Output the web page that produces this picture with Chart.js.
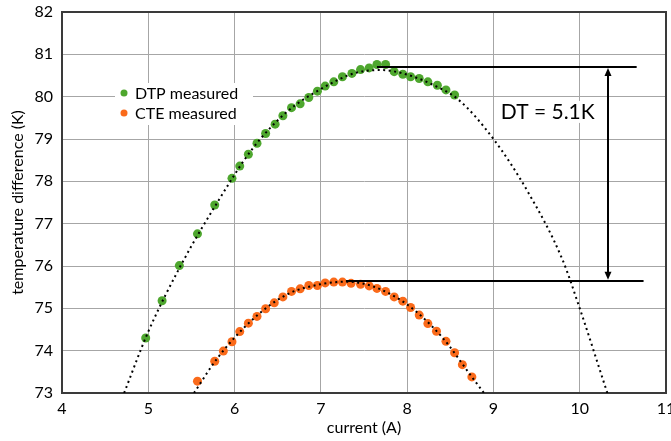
<!DOCTYPE html>
<html>
<head>
<meta charset="utf-8">
<script src="https://cdn.jsdelivr.net/npm/chart.js@4.4.1/dist/chart.umd.min.js"></script>
<style>
    html, body { margin: 0; padding: 0; background: #fff; }
    #wrap { width: 671px; height: 441px; }
</style>
</head>
<body>
<div id="wrap"><canvas id="dt-chart" width="671" height="441"></canvas></div>
<script>
// measured points
const dtpCurrent = [4.97, 5.16, 5.36, 5.57, 5.77, 5.97, 6.06, 6.16, 6.26, 6.36, 6.47, 6.56, 6.66, 6.76, 6.86, 6.96,
    7.05, 7.15, 7.25, 7.36, 7.46, 7.56, 7.65, 7.75, 7.85, 7.95, 8.04, 8.14, 8.24, 8.35, 8.45, 8.55];
const dtpTemp = [74.30, 75.18, 76.01, 76.76, 77.44, 78.07, 78.36, 78.64, 78.90, 79.13, 79.35, 79.55, 79.74, 79.83, 79.98, 80.13,
    80.25, 80.35, 80.47, 80.55, 80.64, 80.68, 80.76, 80.76, 80.59, 80.53, 80.47, 80.43, 80.35, 80.27, 80.16, 80.04];
const cteCurrent = [5.57, 5.77, 5.87, 5.97, 6.06, 6.16, 6.26, 6.36, 6.46, 6.56, 6.66, 6.76, 6.86, 6.96, 7.05, 7.15,
    7.25, 7.35, 7.46, 7.56, 7.65, 7.75, 7.85, 7.95, 8.04, 8.14, 8.24, 8.34, 8.45, 8.55, 8.64, 8.75];
const cteTemp = [73.28, 73.75, 73.99, 74.21, 74.45, 74.65, 74.81, 74.99, 75.13, 75.27, 75.40, 75.46, 75.54, 75.54, 75.60, 75.62,
    75.62, 75.59, 75.57, 75.53, 75.47, 75.40, 75.27, 75.17, 75.02, 74.84, 74.64, 74.46, 74.22, 73.95, 73.67, 73.38];

// dotted trend lines
const dtpTrendX = [4.72, 5.0, 5.4, 5.8, 6.2, 6.6, 7.0, 7.4, 7.7, 8.0, 8.3, 8.6, 9.0, 9.4, 9.8, 10.0, 10.32];
const dtpTrendY = [73.0, 74.45, 76.1, 77.5, 78.75, 79.63, 80.18, 80.56, 80.63, 80.52, 80.28, 79.92, 79.0, 77.75, 76.15, 75.0, 73.0];
const cteTrendX = [5.53, 5.8, 6.2, 6.6, 7.0, 7.3, 7.6, 8.0, 8.4, 8.75, 8.89];
const cteTrendY = [73.0, 73.82, 74.72, 75.32, 75.57, 75.63, 75.52, 75.09, 74.33, 73.38, 73.0];

// DT annotation
const dtLevels = [80.7, 75.65];
const dtLineStart = [7.65, 7.29];
const dtLineEnd = [10.66, 10.74];
const dtArrowX = 10.33;
const dtLabel = "DT = 5.1K";
const dtLabelPos = [9.63, 79.64];

const legendNames = ["DTP measured", "CTE measured"];
const xTicks = [4, 5, 6, 7, 8, 9, 10, 11];
const yTicks = [73, 74, 75, 76, 77, 78, 79, 80, 81, 82];

const GREEN = "#4ea72e";
const ORANGE = "#fa6a1a";
const FONT = "Lato";

function toPoints(xs, ys) {
    return xs.map(function (x, i) { return { x: x, y: ys[i] }; });
}

const dtAnnotation = {
    id: "dtAnnotation",
    beforeDatasetsDraw(chart) {
        // dark frame round the plot, like the original
        const a = chart.chartArea;
        const ctx = chart.ctx;
        ctx.save();
        ctx.strokeStyle = "#3a3a3a";
        ctx.lineWidth = 2;
        ctx.strokeRect(a.left, a.top, a.right - a.left, a.bottom - a.top);
        ctx.restore();
    },
    afterDatasetsDraw(chart) {
        const ctx = chart.ctx;
        const xs = chart.scales.x;
        const ys = chart.scales.y;
        ctx.save();
        ctx.strokeStyle = "#000";
        ctx.fillStyle = "#000";
        ctx.lineWidth = 2;
        dtLevels.forEach(function (lv, i) {
            const py = Math.round(ys.getPixelForValue(lv));
            ctx.beginPath();
            ctx.moveTo(xs.getPixelForValue(dtLineStart[i]), py);
            ctx.lineTo(xs.getPixelForValue(dtLineEnd[i]), py);
            ctx.stroke();
        });
        // double arrow
        const ax = Math.round(xs.getPixelForValue(dtArrowX));
        const top = ys.getPixelForValue(dtLevels[0]) + 1;
        const bot = ys.getPixelForValue(dtLevels[1]) - 1;
        ctx.beginPath();
        ctx.moveTo(ax, top + 6);
        ctx.lineTo(ax, bot - 6);
        ctx.stroke();
        ctx.beginPath();
        ctx.moveTo(ax, top);
        ctx.lineTo(ax - 3.5, top + 8);
        ctx.lineTo(ax + 3.5, top + 8);
        ctx.closePath();
        ctx.fill();
        ctx.beginPath();
        ctx.moveTo(ax, bot);
        ctx.lineTo(ax - 3.5, bot - 8);
        ctx.lineTo(ax + 3.5, bot - 8);
        ctx.closePath();
        ctx.fill();

        // label with white backing
        ctx.font = "21px " + FONT;
        ctx.textAlign = "center";
        ctx.textBaseline = "middle";
        const lx = xs.getPixelForValue(dtLabelPos[0]);
        const ly = ys.getPixelForValue(dtLabelPos[1]);
        const w = ctx.measureText(dtLabel).width;
        ctx.fillStyle = "#fff";
        ctx.fillRect(lx - w / 2 - 2, ly - 11, w + 4, 22);
        ctx.fillStyle = "#000";
        ctx.fillText(dtLabel, lx, ly);
        ctx.restore();
    },
    afterDraw(chart) {
        // legend box inside the plot
        const ctx = chart.ctx;
        ctx.save();
        ctx.fillStyle = "#fff";
        ctx.fillRect(115, 83, 138, 42);
        const colors = [GREEN, ORANGE];
        ctx.font = "16px " + FONT;
        ctx.textBaseline = "middle";
        ctx.textAlign = "left";
        legendNames.forEach(function (name, i) {
            const cy = 93 + i * 20;
            ctx.fillStyle = colors[i];
            ctx.beginPath();
            ctx.arc(124, cy, 3.5, 0, Math.PI * 2);
            ctx.fill();
            ctx.fillStyle = "#000";
            ctx.fillText(name, 135, cy + 1);
        });
        ctx.restore();
    }
};

document.addEventListener("DOMContentLoaded", function () {
    Chart.defaults.font.family = FONT;
    Chart.defaults.color = "#000";

    new Chart(document.getElementById("dt-chart"), {
        type: "scatter",
        data: {
            datasets: [
                {
                    label: "DTP trend",
                    data: toPoints(dtpTrendX, dtpTrendY),
                    showLine: true,
                    borderColor: "#000",
                    borderWidth: 2,
                    borderDash: [2, 3.5],
                    pointRadius: 0,
                    cubicInterpolationMode: "monotone",
                    order: 0,
                },
                {
                    label: "CTE trend",
                    data: toPoints(cteTrendX, cteTrendY),
                    showLine: true,
                    borderColor: "#000",
                    borderWidth: 2,
                    borderDash: [2, 3.5],
                    pointRadius: 0,
                    cubicInterpolationMode: "monotone",
                    order: 0,
                },
                {
                    label: legendNames[0],
                    data: toPoints(dtpCurrent, dtpTemp),
                    backgroundColor: GREEN,
                    borderColor: GREEN,
                    pointRadius: 4.5,
                    borderWidth: 0,
                    order: 1,
                },
                {
                    label: legendNames[1],
                    data: toPoints(cteCurrent, cteTemp),
                    backgroundColor: ORANGE,
                    borderColor: ORANGE,
                    pointRadius: 4.5,
                    borderWidth: 0,
                    order: 1,
                },
            ],
        },
        options: {
            responsive: false,
            animation: false,
            events: [],
            layout: { padding: { top: 12, right: 5, left: 0, bottom: 0 } },
            plugins: {
                legend: { display: false },
                tooltip: { enabled: false },
            },
            scales: {
                x: {
                    type: "linear",
                    min: 4,
                    max: 11,
                    afterBuildTicks: function (scale) {
                        scale.ticks = xTicks.map(function (v) { return { value: v }; });
                    },
                    afterFit: function (scale) {
                        scale.paddingLeft = 0;
                        scale.paddingRight = 0;
                        scale.height = 48;
                    },
                    grid: { color: "#a6a6a6", lineWidth: 1, drawTicks: false },
                    border: { color: "#3a3a3a", width: 2 },
                    ticks: { font: { size: 16 }, padding: 6, maxRotation: 0 },
                    title: {
                        display: true,
                        text: "current (A)",
                        font: { size: 16 },
                        padding: { top: 0, bottom: 4 },
                    },
                },
                y: {
                    min: 73,
                    max: 82,
                    afterBuildTicks: function (scale) {
                        scale.ticks = yTicks.map(function (v) { return { value: v }; });
                    },
                    afterFit: function (scale) {
                        scale.paddingTop = 0;
                        scale.paddingBottom = 0;
                        scale.width = 62;
                    },
                    grid: { color: "#a6a6a6", lineWidth: 1, drawTicks: false },
                    border: { color: "#3a3a3a", width: 2 },
                    ticks: { font: { size: 16 }, padding: 9 },
                    title: {
                        display: true,
                        text: "temperature difference (K)",
                        font: { size: 16 },
                        padding: { top: 8, bottom: 0 },
                    },
                },
            },
        },
        plugins: [dtAnnotation],
    });
});
</script>
</body>
</html>
